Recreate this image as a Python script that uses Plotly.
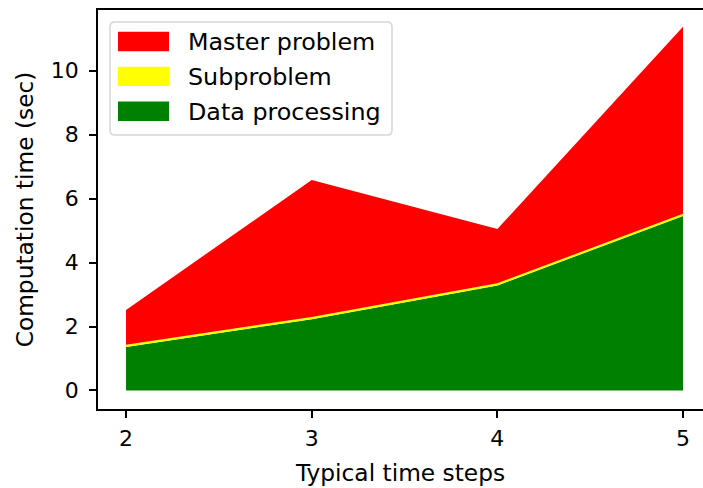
import plotly.graph_objects as go

# ---- data ----
time_steps = [2, 3, 4, 5]
data_processing = [1.36, 2.23, 3.28, 5.46]
subproblem = [0.07, 0.07, 0.07, 0.07]
master_problem = [1.09, 4.28, 1.70, 5.85]
series_names = ["Master problem", "Subproblem", "Data processing"]
series_colors = ["#ff0000", "#ffff00", "#008000"]
x_ticks = [2, 3, 4, 5]
y_ticks = [0, 2, 4, 6, 8, 10]

W, H = 703, 488
L, R, T, B = 98, 0, 10, 79
PW, PH = W - L - R, H - T - B

fig = go.Figure()
for name, vals, col in [
    ("Data processing", data_processing, "#008000"),
    ("Subproblem", subproblem, "#ffff00"),
    ("Master problem", master_problem, "#ff0000"),
]:
    fig.add_trace(go.Scatter(
        x=time_steps, y=vals, name=name, mode="lines",
        stackgroup="one", fillcolor=col, line=dict(width=0, color=col),
        showlegend=False, hoverinfo="skip"))

def px(xp):
    return (xp - L) / PW

def py(yp):
    return (H - B - yp) / PH

shapes = []
annotations = []
# legend frame (rounded)
x0, x1, y0, y1, r = 110, 392, 22, 135, 5
rx, ry = r / PW, r / PH
X0, X1, Y0, Y1 = px(x0), px(x1), py(y1), py(y0)
path = (f"M {X0+rx},{Y0} L {X1-rx},{Y0} Q {X1},{Y0} {X1},{Y0+ry} "
        f"L {X1},{Y1-ry} Q {X1},{Y1} {X1-rx},{Y1} L {X0+rx},{Y1} "
        f"Q {X0},{Y1} {X0},{Y1-ry} L {X0},{Y0+ry} Q {X0},{Y0} {X0+rx},{Y0} Z")
shapes.append(dict(type="path", xref="paper", yref="paper", path=path,
                   fillcolor="rgba(255,255,255,0.8)",
                   line=dict(color="#d6d6d6", width=1.5), layer="above"))
for i, (name, col) in enumerate(zip(series_names, series_colors)):
    cy = 41.5 + i * 34.9
    shapes.append(dict(type="rect", xref="paper", yref="paper",
                       x0=px(118), x1=px(169), y0=py(cy + 9.7), y1=py(cy - 9.7),
                       fillcolor=col, line=dict(width=0), layer="above"))
    annotations.append(dict(xref="paper", yref="paper", x=px(186), y=py(cy + 1),
                            text=name, showarrow=False, xanchor="left",
                            yanchor="middle",
                            font=dict(size=23.8, color="black")))

axis_common = dict(showline=True, linecolor="black", linewidth=1.6,
                   ticks="outside", ticklen=7, tickwidth=1.6, tickcolor="black",
                   showgrid=False, zeroline=False,
                   tickfont=dict(size=22, color="black"))

fig.update_layout(
    width=W, height=H,
    margin=dict(l=L, r=R, t=T, b=B, pad=0),
    paper_bgcolor="white", plot_bgcolor="white",
    font=dict(family="DejaVu Sans", color="black"),
    xaxis=dict(range=[1.849, 5.1077], tickvals=x_ticks, mirror=True,
               ticklabelstandoff=2,
               title=dict(text="Typical time steps", font=dict(size=23.3), standoff=14),
               **axis_common),
    yaxis=dict(range=[-0.58, 11.9], tickvals=y_ticks, mirror=False,
               ticklabelstandoff=6,
               title=dict(text="Computation time (sec)", font=dict(size=23.3), standoff=11),
               **axis_common),
    shapes=shapes, annotations=annotations,
)

fig.write_html("out.html", config={"displayModeBar": False},
               post_script="document.body.style.margin='0';document.body.style.padding='0';")
